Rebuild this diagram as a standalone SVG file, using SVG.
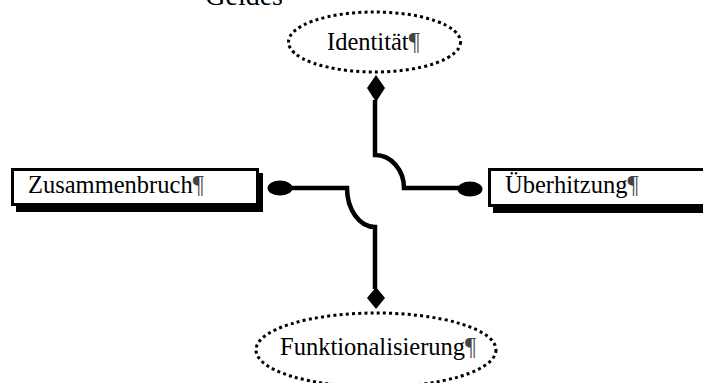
<svg xmlns="http://www.w3.org/2000/svg" width="703" height="383" viewBox="0 0 703 383">
  <style>
    .lbl { font-family: "Liberation Serif", "Times New Roman", serif; font-size: 24.5px; fill: #000; }
    .pil { fill: #444; }
    .dotted { fill: #fff; stroke: #000; stroke-width: 3; stroke-dasharray: 3 3.2; }
    .box { fill: #fff; stroke: #000; stroke-width: 3; }
    .shadow { fill: #000; }
    .wire { fill: none; stroke: #000; stroke-width: 4.5; }
    .end { fill: #000; }
  </style>

  <rect width="703" height="383" fill="#fff"/>

  <!-- heading fragment at the top edge -->
  <text class="lbl" x="283" y="5" text-anchor="end" style="font-size:28px">Geldes</text>

  <!-- connectors -->
  <g id="connectors">
    <!-- Identität to Überhitzung -->
    <path class="wire" d="M375,100 V155 A29,33 0 0 1 404,188 H460"/>
    <polygon class="end" points="376,75 385,88 376,102 367,88"/>
    <ellipse class="end" cx="470" cy="189" rx="12.5" ry="7.5"/>
    <!-- Zusammenbruch to Funktionalisierung -->
    <path class="wire" d="M290,188 H347 A28,39 0 0 0 375,227 V289"/>
    <ellipse class="end" cx="280" cy="188" rx="12.5" ry="7.5"/>
    <polygon class="end" points="376,287 385,298 376,309 367,298"/>
  </g>

  <g id="node-identitaet">
    <ellipse class="dotted" cx="374.5" cy="42" rx="86" ry="30"/>
    <text class="lbl" x="327" y="50">Identität<tspan class="pil">¶</tspan></text>
  </g>

  <g id="node-zusammenbruch">
    <rect class="shadow" x="16" y="173" width="247" height="39"/>
    <rect class="box" x="12.5" y="169.5" width="245" height="35"/>
    <text class="lbl" x="28" y="193">Zusammenbruch<tspan class="pil">¶</tspan></text>
  </g>

  <g id="node-ueberhitzung">
    <rect class="shadow" x="493" y="173" width="240" height="40"/>
    <rect class="box" x="489.5" y="169.5" width="240" height="36"/>
    <text class="lbl" x="505" y="193">Überhitzung<tspan class="pil">¶</tspan></text>
  </g>

  <g id="node-funktionalisierung">
    <ellipse class="dotted" cx="376" cy="350" rx="120" ry="37"/>
    <text class="lbl" x="280" y="355">Funktionalisierung<tspan class="pil">¶</tspan></text>
  </g>
</svg>
